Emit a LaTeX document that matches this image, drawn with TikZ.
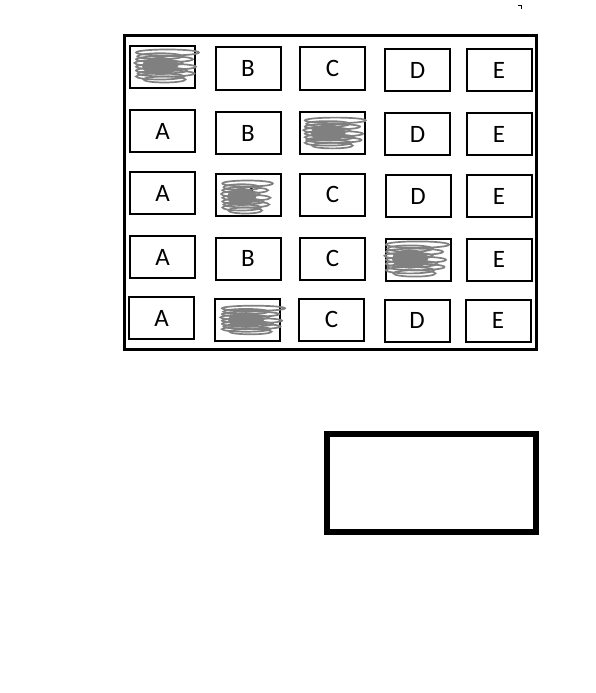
\documentclass[tikz,border=0pt]{standalone}
\usepackage{fontspec}
\setmainfont{Carlito}
\usetikzlibrary{calc}

\tikzset{
  cell/.style={draw, line width=2pt, minimum width=65pt, minimum height=42pt,
    inner sep=0pt, font=\fontsize{25}{28}\selectfont},
  scrawl/.style={draw=gray, line width=1.7pt},
}
% messy pencil scribble: centre, half width, half height
\newcommand{\scrawlat}[3]{%
  \fill[gray] ($(#1)+(-0.1*#2,0)$) ellipse ({0.6*#2} and {0.6*#3});
  \foreach \dy/\k/\dx in {-0.9/1.05/0.15, -0.65/0.75/-0.1, -0.45/0.95/0.05,
                           -0.2/0.8/-0.15, 0.05/1/0.1, 0.3/0.85/-0.05,
                           0.5/0.95/0.1, 0.7/0.8/-0.1, 0.9/0.7/0.05}
    \draw[scrawl] ($(#1)+(\dx*#2,\dy*#3)$) ellipse ({\k*#2} and {0.2*#3});
}

\begin{document}
\begin{tikzpicture}[x=1pt, y=-1pt]
\useasboundingbox (0,0) rectangle (596,693);
% outer frame
\draw[line width=3pt] (124,36) rectangle (536,349);
% row 1
\node[cell] (a1) at (162.5,67) {};
\node[cell] (b1) at (248,68.5) {B};
\node[cell] (c1) at (332.5,68.5) {C};
\node[cell] (d1) at (417.5,70) {D};
\node[cell] (e1) at (499,70) {E};
% row 2
\node[cell] (a2) at (162.5,131) {A};
\node[cell] (b2) at (248,133) {B};
\node[cell] (c2) at (332.5,132.5) {};
\node[cell] (d2) at (417.5,134) {D};
\node[cell] (e2) at (499,134) {E};
% row 3
\node[cell] (a3) at (162.5,193) {A};
\node[cell] (b3) at (248,194.5) {B};
\node[cell] (c3) at (332.5,194.5) {C};
\node[cell] (d3) at (418,196) {D};
\node[cell] (e3) at (499,196) {E};
% row 4
\node[cell] (a4) at (162.5,257) {A};
\node[cell] (b4) at (248,258.5) {B};
\node[cell] (c4) at (332.5,258.5) {C};
\node[cell] (d4) at (418,259.5) {};
\node[cell] (e4) at (499,259.5) {E};
% row 5
\node[cell] (a5) at (161.5,318) {A};
\node[cell] (b5) at (247,319.5) {};
\node[cell] (c5) at (331.5,319.5) {C};
\node[cell] (d5) at (417,320.5) {D};
\node[cell] (e5) at (498,320.5) {E};
% crossed-out cells
\scrawlat{163,66}{30}{15}
\scrawlat{331,133}{29}{14}
\scrawlat{244,197}{24}{15}
\scrawlat{413,259}{30}{16}
\scrawlat{249,320}{30}{13}
% empty box below
\draw[line width=5.5pt] (327,434) rectangle (536,532);
% stray mark top right
\draw[line width=1pt] (518,6) -- (521,6) -- (521,9);
\end{tikzpicture}
\end{document}
